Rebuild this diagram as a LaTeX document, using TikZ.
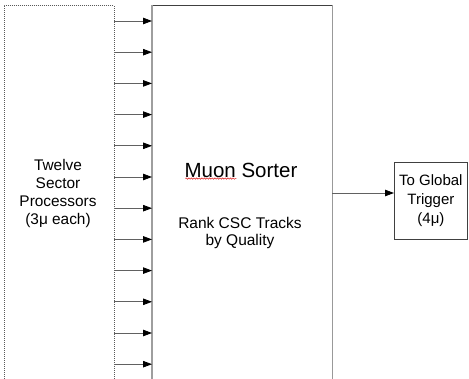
\documentclass[tikz,border=0pt]{standalone}
\usepackage{fontspec}
\setmainfont{Liberation Sans}
\usetikzlibrary{arrows.meta,decorations.pathmorphing}
\begin{document}
\begin{tikzpicture}[x=1pt,y=-1pt,
  blockbox/.style={inner sep=0pt,anchor=north west},
  label/.style={align=center,inner sep=0pt,text=black},
  feed/.style={draw=black!62,line width=0.8pt,-{Triangle[length=9pt,width=6.5pt,color=black]}},
]
\useasboundingbox (0,0) rectangle (469,379);
\clip (0,0) rectangle (469,379);

% sector processors (dotted outline, runs off the bottom)
\node[blockbox,draw=black!65,line width=0.8pt,dash pattern=on 1pt off 1pt,
  minimum width=109.5pt,minimum height=380pt] (procs) at (4,5) {};
\node[label,font=\fontsize{15.4}{18}\selectfont] (procstext) at (58,194)
  {Twelve\\Sector\\Processors\\(3μ each)};

% muon sorter block
\node[blockbox,minimum width=180pt,minimum height=380pt] (sorter) at (152,5) {};
\draw[black!75,line width=0.9pt] (sorter.north west) -- (sorter.north east);
\draw[black!38,line width=1.8pt] (sorter.north west) -- (sorter.south west);
\draw[black!40,line width=1.4pt] (sorter.north east) -- (sorter.south east);
\node[label,font=\fontsize{20.5}{24}\selectfont] (title) at (241,170) {Muon Sorter};
\draw[red!85!black,line width=0.45pt,decorate,
  decoration={snake,amplitude=0.7pt,segment length=2.6pt}]
  ([xshift=1pt,yshift=-1.5pt]title.base west) -- ++(51,0);
\node[label,font=\fontsize{15.5}{17}\selectfont] (rank) at (240,233)
  {Rank CSC Tracks\\by Quality};

% global trigger block
\node[blockbox,draw=black!75,line width=0.8pt,minimum width=73pt,minimum height=77pt]
  (gt) at (394,162) {};
\node[label,font=\fontsize{15}{19}\selectfont] (gttext) at (gt.center)
  {To Global\\Trigger\\(4μ)};

% twelve sector links
\foreach \i in {0,...,11}{
  \pgfmathsetmacro{\yy}{21+31.2*\i}
  \draw[feed] (procs.east |- {0,\yy}) -- (sorter.west |- {0,\yy});
}

% output link
\draw[feed] (sorter.east |- {0,193}) -- (gt.west |- {0,193});
\end{tikzpicture}
\end{document}
